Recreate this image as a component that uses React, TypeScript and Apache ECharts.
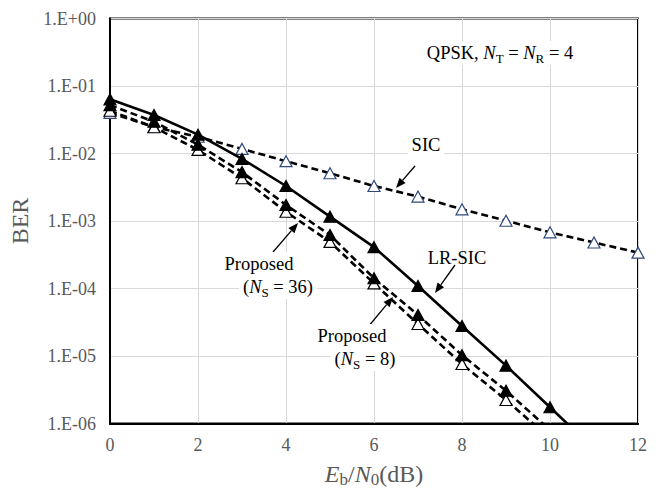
import React, { useEffect, useRef } from "react";
import * as echarts from "echarts";

const snrDb = [0, 1, 2, 3, 4, 5, 6, 7, 8, 9, 10, 11, 12];
const berSIC = [0.04, 0.0247, 0.0177, 0.0117, 0.0077, 0.0051, 0.0033, 0.0023, 0.00149, 0.00101, 0.00068, 0.00048, 0.00034];
const berLRSIC = [0.0635, 0.0372, 0.019, 0.0083, 0.0033, 0.00116, 0.00041, 0.000109, 2.78e-5, 7.2e-6, 1.74e-6, 4.2e-7];
const berProp8 = [0.052, 0.0296, 0.0135, 0.0053, 0.00173, 0.00062, 0.000142, 4.05e-5, 1.03e-5, 3.06e-6, 8.0e-7];
const berProp36 = [0.043, 0.0245, 0.0113, 0.0043, 0.00137, 0.00049, 0.000119, 2.98e-5, 7.6e-6, 2.23e-6, 6.0e-7];
const yTickLabel = (v: number) => {
  const e = Math.round(Math.log10(v));
  return "1.E" + (e >= 0 ? "+" : "-") + String(Math.abs(e)).padStart(2, "0");
};

const FONT = "'Liberation Serif', 'Times New Roman', serif";
const GRAY = "#595959";
const AF = 18.5;

function pairs(ys: number[]) {
  return ys.map((y, i) => [snrDb[i], y]);
}

function arrow(x1: number, y1: number, x2: number, y2: number) {
  const dx = x2 - x1, dy = y2 - y1;
  const len = Math.sqrt(dx * dx + dy * dy);
  const ux = dx / len, uy = dy / len;
  const hl = 10, hw = 4;
  const bx = x2 - ux * hl, by = y2 - uy * hl;
  return [
    { type: "line", shape: { x1, y1, x2: bx, y2: by }, style: { stroke: "#000", lineWidth: 1.3 }, z: 10 },
    {
      type: "polygon",
      shape: { points: [[x2, y2], [bx - uy * hw, by + ux * hw], [bx + uy * hw, by - ux * hw]] },
      style: { fill: "#000" },
      z: 10,
    },
  ];
}

const richBase = {
  i: { fontStyle: "italic", fontSize: AF, fontFamily: FONT, lineHeight: 24 },
  sub: { fontSize: 13, fontFamily: FONT, verticalAlign: "bottom", lineHeight: 14 },
  n: { fontSize: AF, fontFamily: FONT, lineHeight: 24 },
};

function label(text: string, x: number, y: number, bg = true) {
  return {
    type: "text",
    x,
    y,
    z: 20,
    style: {
      text,
      fill: "#000",
      fontSize: AF,
      fontFamily: FONT,
      lineHeight: 24,
      align: "center",
      verticalAlign: "middle",
      rich: richBase,
      backgroundColor: bg ? "#fff" : "transparent",
      padding: [0, 4, 0, 4],
    },
  };
}

export default function App() {
  const ref = useRef<HTMLDivElement>(null);
  useEffect(() => {
    if (!ref.current) return;
    const chart = echarts.init(ref.current, null, { renderer: "svg" });
    const lineSeries = (name: string, data: number[], dashed: boolean, filled: boolean, stroke: string) => ({
      name,
      type: "line",
      data: pairs(data),
      symbol: "triangle",
      symbolSize: [12, 11],
      showSymbol: true,
      clip: true,
      lineStyle: { color: "#000", width: 2.6, type: dashed ? [7, 4] : "solid" },
      itemStyle: { color: filled ? "#000" : "#fff", borderColor: stroke, borderWidth: 1.2 },
      z: filled ? 3 : 2,
    });
    chart.setOption({
      animation: false,
      backgroundColor: "#fff",
      grid: {
        left: 110,
        right: 22,
        top: 18.5,
        bottom: 65.5,
        show: true,
        borderColor: "#000",
        borderWidth: 2,
        containLabel: false,
        outerBoundsMode: "none",
      },
      xAxis: {
        type: "value",
        min: 0,
        max: 12,
        interval: 2,
        name: "{i|E}{sub|b}/{i|N}{sub|0}(dB)",
        nameLocation: "middle",
        nameGap: 36,
        nameTextStyle: {
          fontSize: 24,
          fontFamily: FONT,
          color: GRAY,
          lineHeight: 28,
          rich: {
            i: { fontStyle: "italic", fontSize: 24, fontFamily: FONT, color: GRAY, lineHeight: 28 },
            sub: { fontSize: 17, fontFamily: FONT, color: GRAY, verticalAlign: "bottom", lineHeight: 17 },
          },
        },
        axisLine: { show: true, lineStyle: { color: "#000", width: 2 } },
        axisTick: { show: false },
        axisLabel: { fontSize: 18, fontFamily: FONT, color: GRAY, margin: 12 },
        splitLine: { show: true, lineStyle: { color: "#d9d9d9", width: 1 } },
      },
      yAxis: {
        type: "log",
        logBase: 10,
        min: 1e-6,
        max: 1,
        name: "BER",
        nameLocation: "middle",
        nameGap: 78,
        nameTextStyle: { fontSize: 24, fontFamily: FONT, color: GRAY },
        axisLine: { show: true, lineStyle: { color: "#000", width: 2 } },
        axisTick: { show: false },
        axisLabel: { fontSize: 18, fontFamily: FONT, color: GRAY, margin: 14, formatter: yTickLabel },
        splitLine: { show: true, lineStyle: { color: "#d9d9d9", width: 1 } },
        minorSplitLine: { show: false },
      },
      series: [
        lineSeries("SIC", berSIC, true, false, "#2f4a7a"),
        lineSeries("Proposed (NS = 36)", berProp36, true, false, "#000"),
        lineSeries("Proposed (NS = 8)", berProp8, true, true, "#000"),
        lineSeries("LR-SIC", berLRSIC, false, true, "#000"),
      ],
      graphic: [
        label("{n|QPSK, }{i|N}{sub|T}{n| = }{i|N}{sub|R}{n| = 4}", 500, 53),
        label("{n|SIC}", 426, 145),
        ...arrow(415, 166, 396, 188),
        label("{n|LR-SIC}", 457, 258, false),
        ...arrow(455, 265, 435, 293),
        label("{n|Proposed}", 259, 264),
        label("{n|(}{i|N}{sub|S}{n| = 36)}", 278, 287),
        ...arrow(273, 252, 298, 223),
        label("{n|Proposed}", 352, 336),
        label("{n|(}{i|N}{sub|S}{n| = 8)}", 365, 359),
        ...arrow(368, 327, 393, 297),
      ],
    });
    return () => chart.dispose();
  }, []);
  return <div ref={ref} style={{ position: "absolute", left: 0, top: 0, width: 660, height: 489 }} />;
}
